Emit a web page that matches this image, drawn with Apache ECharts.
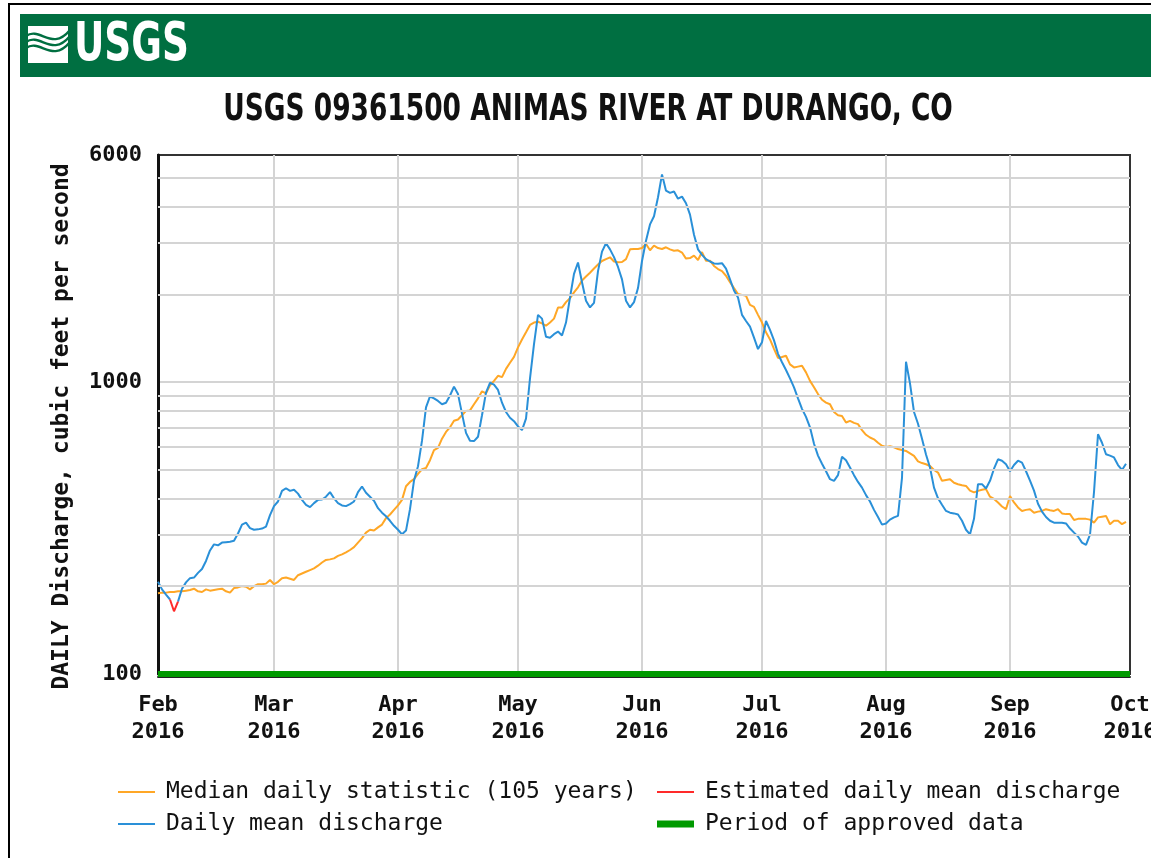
<!DOCTYPE html>
<html><head><meta charset="utf-8">
<script src="https://cdn.jsdelivr.net/npm/echarts@6/dist/echarts.min.js"></script>
<style>html,body{margin:0;padding:0;background:#fff;overflow:hidden}#c{width:1151px;height:858px}</style>
</head><body><div id="c"></div>
<script>
// ---------------- DATA ----------------
const YEAR = 2016;
const monthNames = ['Jan','Feb','Mar','Apr','May','Jun','Jul','Aug','Sep','Oct','Nov','Dec'];
const yTicks = [100, 1000, 6000];
const minorGrid = [200,300,400,500,600,700,800,900,2000,3000,4000,5000];

// Daily mean discharge (ft3/s), one value per day of the month
const febMean = [207,195,187,180,null,177,196,206,213,214,222,229,244,265,278,276,282,283,284,286,303,325,330,316,312,313,315,320,350];
const marMean = [376,390,424,433,424,428,415,395,380,373,385,395,396,405,420,400,385,378,376,382,390,420,439,418,405,392,370,357,347,335,322];
const aprMean = [312,301,310,367,460,515,630,820,893,880,862,840,850,900,965,910,780,670,630,628,650,770,920,995,980,940,850,790,755,735];
const mayMean = [705,685,750,1030,1350,1700,1650,1430,1420,1460,1490,1445,1600,1950,2350,2570,2200,1900,1803,1870,2400,2800,2990,2850,2680,2480,2250,1900,1803,1880,2100];
const junMean = [2600,3050,3470,3700,4300,5150,4529,4450,4500,4250,4320,4100,3750,3200,2850,2730,2640,2590,2550,2545,2555,2450,2250,2060,1950,1700,1620,1550,1420,1298];
const julMean = [1370,1620,1510,1390,1250,1170,1100,1030,960,880,810,760,700,615,560,525,495,465,459,480,555,540,510,480,455,435,410,390,365,345,325];
const augMean = [328,338,344,348,470,1174,990,790,720,640,565,510,435,400,380,362,357,355,352,335,312,301,340,447,447,432,459,505,544,538,523];
const sepMean = [495,520,538,530,495,460,425,383,360,345,335,330,330,330,328,315,305,296,282,277,300,420,663,620,566,560,552,520,500,525];

// Median daily statistic (105 years)
const febMed = [189,190,190,191,191,192,192,193,194,196,192,191,195,193,194,195,196,192,190,197,198,200,199,195,200,203,203,204,210];
const marMed = [203,207,213,214,212,210,218,221,224,227,230,235,241,246,247,249,254,257,261,266,272,282,292,305,312,310,318,325,342,352,365];
const aprMed = [378,395,440,455,465,485,503,508,540,585,595,640,675,700,737,745,770,797,800,840,880,930,915,975,1010,1051,1040,1110,1165,1220];
const mayMed = [1315,1400,1481,1570,1600,1610,1590,1560,1600,1650,1800,1800,1880,1940,2030,2112,2230,2300,2370,2450,2530,2600,2640,2677,2590,2573,2580,2640,2850,2858,2860];
const junMed = [2880,2974,2830,2934,2880,2858,2897,2850,2820,2830,2780,2650,2660,2712,2620,2790,2606,2606,2500,2440,2400,2315,2200,2100,2004,1990,1977,1840,1810,1700];
const julMed = [1600,1481,1400,1300,1210,1220,1231,1150,1123,1130,1137,1080,1010,960,910,870,851,840,790,770,766,727,737,725,718,685,660,646,637,620,605];
const augMed = [600,603,598,590,585,581,570,559,535,528,523,516,500,490,459,462,465,452,447,443,441,425,419,424,428,430,405,398,387,375,367];
const sepMed = [407,387,372,362,365,367,357,360,362,367,364,362,367,355,353,353,337,340,340,340,338,330,344,346,348,326,335,335,326,332];

// Estimated daily mean discharge
const estDates = ['2016-02-04','2016-02-05','2016-02-06'];
const estValues = [180,164,177];

// Period of approved data
const approvedDates = ['2016-02-01','2016-10-01'];
const approvedValues = [100,100];

// ---------------- BUILD ----------------
function pad(n){return (n<10?'0':'')+n;}
function monthSeries(month, arr){ return arr.map((v,i)=>[YEAR+'-'+pad(month)+'-'+pad(i+1), v]); }
const meanData = [].concat(
  monthSeries(2,febMean), monthSeries(3,marMean), monthSeries(4,aprMean), monthSeries(5,mayMean),
  monthSeries(6,junMean), monthSeries(7,julMean), monthSeries(8,augMean), monthSeries(9,sepMean));
const medData = [].concat(
  monthSeries(2,febMed), monthSeries(3,marMed), monthSeries(4,aprMed), monthSeries(5,mayMed),
  monthSeries(6,junMed), monthSeries(7,julMed), monthSeries(8,augMed), monthSeries(9,sepMed));
const estData = estDates.map((d,i)=>[d, estValues[i]]);
const approvedData = approvedDates.map((d,i)=>[d, approvedValues[i]]);

const MONO = '"DejaVu Sans Mono","Liberation Mono",monospace';
const COND = '"DejaVu Sans Condensed","DejaVu Sans",sans-serif';
const C_MED = '#ffa726', C_MEAN = '#2a90d8', C_EST = '#ff2a2a', C_APP = '#009a00';
const N_MED = 'Median daily statistic (105 years)', N_MEAN = 'Daily mean discharge',
      N_EST = 'Estimated daily mean discharge', N_APP = 'Period of approved data';

function legendAt(left, top, name, h){
  return {left:left, top:top, padding:0, selectedMode:false, itemWidth:37, itemHeight:h,
    data:[{name:name, icon:'rect'}],
    textStyle:{fontFamily:MONO, fontSize:23, color:'#111', padding:[0,0,0,6], lineHeight:26}};
}

// USGS logo mark: white block crossed by green waves
const logo = [{type:'rect', silent:true, shape:{x:28, y:26, width:40, height:37}, style:{fill:'#fff'}}];
for (let i=0;i<3;i++){
  const y0 = 36 + i*6;
  logo.push({type:'bezierCurve', silent:true,
    shape:{x1:26, y1:y0, cpx1:40, cpy1:y0-10, cpx2:52, cpy2:y0+16, x2:70, y2:y0-6},
    style:{stroke:'#006f41', lineWidth:2.4, fill:null}});
}

const chart = echarts.init(document.getElementById('c'), null, {renderer:'canvas'});
chart.setOption({
  animation:false,
  backgroundColor:'#fff',
  grid:{left:158, top:155, width:972, height:519, show:true, borderColor:'#333', borderWidth:2,
    backgroundColor:'#fff', outerBoundsMode:'none', containLabel:false},
  xAxis:{type:'time', min:'2016-02-01', max:'2016-10-01', splitNumber:8, offset:3,
    axisLine:{show:true, lineStyle:{color:'#222', width:2}},
    axisTick:{show:false},
    splitLine:{show:true, showMinLine:false, showMaxLine:false, lineStyle:{color:'#d4d4d4', width:2}},
    axisLabel:{fontFamily:MONO, fontWeight:'bold', fontSize:22, color:'#111', lineHeight:27, margin:15,
      showMinLabel:true, showMaxLabel:true, hideOverlap:false,
      formatter:function(v){const d=new Date(v); return monthNames[d.getMonth()]+'\n'+d.getFullYear();}}},
  yAxis:{type:'log', logBase:10, min:yTicks[0], max:yTicks[yTicks.length-1],
    name:'DAILY Discharge, cubic feet per second', nameLocation:'middle', nameRotate:90, nameGap:84,
    nameTextStyle:{fontFamily:MONO, fontWeight:'bold', fontSize:23, color:'#111', padding:[0,24,0,0]},
    axisLine:{show:true, lineStyle:{color:'#111', width:3}},
    axisTick:{show:false},
    splitLine:{show:true, showMinLine:false, showMaxLine:false, lineStyle:{color:'#d4d4d4', width:2}},
    axisLabel:{fontFamily:MONO, fontWeight:'bold', fontSize:22, color:'#111', margin:16, showMaxLabel:true, showMinLabel:true,
      formatter:function(v){return String(Math.round(v));}}},
  legend:[
    legendAt(118, 779, N_MED, 2),
    legendAt(657, 779, N_EST, 2),
    legendAt(118, 811, N_MEAN, 2),
    legendAt(657, 811, N_APP, 7)
  ],
  series:[
    {name:'grid', type:'line', data:[], z:1, silent:true,
      markLine:{silent:true, symbol:'none', animation:false, label:{show:false},
        lineStyle:{color:'#d4d4d4', width:2, type:'solid'},
        data:minorGrid.map(v=>({yAxis:v}))}},
    {name:N_MED, type:'line', data:medData, color:C_MED, showSymbol:false, symbol:'none', lineStyle:{width:2, color:C_MED}, z:3},
    {name:N_MEAN, type:'line', data:meanData, color:C_MEAN, showSymbol:false, symbol:'none', connectNulls:false, lineStyle:{width:2, color:C_MEAN}, z:4},
    {name:N_EST, type:'line', data:estData, color:C_EST, showSymbol:false, symbol:'none', lineStyle:{width:2, color:C_EST}, z:5},
    {name:N_APP, type:'line', data:approvedData, color:C_APP, showSymbol:false, symbol:'none', clip:false, lineStyle:{width:6, color:C_APP}, z:6}
  ],
  graphic:{elements:[
    {type:'rect', silent:true, z:-10, shape:{x:9, y:4, width:1300, height:1000}, style:{fill:null, stroke:'#000', lineWidth:2}},
    {type:'rect', silent:true, shape:{x:20, y:14, width:1300, height:63}, style:{fill:'#006f41'}},
    {type:'text', silent:true, x:74, y:46, scaleX:0.77, style:{text:'USGS', fill:'#fff', font:'bold 54px '+COND, textVerticalAlign:'middle'}},
    {type:'text', silent:true, x:588, y:110, scaleX:0.795, style:{text:'USGS 09361500 ANIMAS RIVER AT DURANGO, CO', fill:'#111', font:'bold 37px '+COND, textAlign:'center', textVerticalAlign:'middle'}}
  ].concat(logo)}
});
</script></body></html>
